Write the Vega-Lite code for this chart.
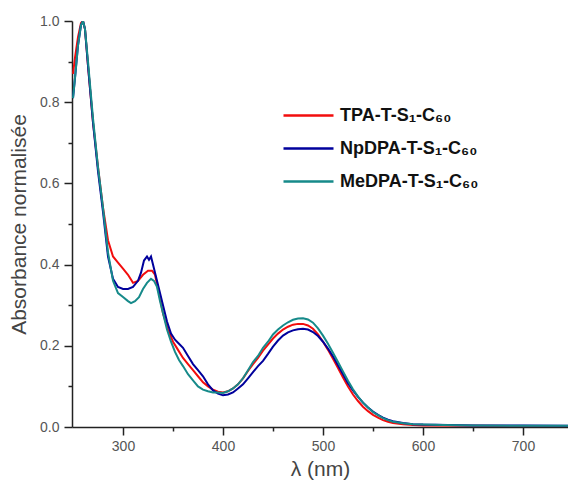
{
  "$schema": "https://vega.github.io/schema/vega-lite/v6.json",
  "width": 496,
  "height": 406,
  "autosize": {"type": "none"},
  "padding": {"left": 72, "top": 21, "right": 0, "bottom": 56},
  "background": "white",
  "config": {"view": {"stroke": null}, "font": "Liberation Sans"},
  "datasets": {
    "spectra": [
      {"series": "TPA-T-S₁-C₆₀", "wl": 250, "abs": 0.87}, {"series": "TPA-T-S₁-C₆₀", "wl": 252, "abs": 0.91}, {"series": "TPA-T-S₁-C₆₀", "wl": 255, "abs": 0.96}, {"series": "TPA-T-S₁-C₆₀", "wl": 258, "abs": 0.995}, {"series": "TPA-T-S₁-C₆₀", "wl": 260, "abs": 1.0}, {"series": "TPA-T-S₁-C₆₀", "wl": 262, "abs": 0.98}, {"series": "TPA-T-S₁-C₆₀", "wl": 265, "abs": 0.89}, {"series": "TPA-T-S₁-C₆₀", "wl": 270, "abs": 0.75}, {"series": "TPA-T-S₁-C₆₀", "wl": 275, "abs": 0.64}, {"series": "TPA-T-S₁-C₆₀", "wl": 280, "abs": 0.54}, {"series": "TPA-T-S₁-C₆₀", "wl": 285, "abs": 0.46}, {"series": "TPA-T-S₁-C₆₀", "wl": 290, "abs": 0.42}, {"series": "TPA-T-S₁-C₆₀", "wl": 295, "abs": 0.405}, {"series": "TPA-T-S₁-C₆₀", "wl": 300, "abs": 0.39}, {"series": "TPA-T-S₁-C₆₀", "wl": 305, "abs": 0.375}, {"series": "TPA-T-S₁-C₆₀", "wl": 310, "abs": 0.355}, {"series": "TPA-T-S₁-C₆₀", "wl": 315, "abs": 0.36}, {"series": "TPA-T-S₁-C₆₀", "wl": 320, "abs": 0.375}, {"series": "TPA-T-S₁-C₆₀", "wl": 325, "abs": 0.385}, {"series": "TPA-T-S₁-C₆₀", "wl": 329, "abs": 0.385}, {"series": "TPA-T-S₁-C₆₀", "wl": 332, "abs": 0.375}, {"series": "TPA-T-S₁-C₆₀", "wl": 336, "abs": 0.33}, {"series": "TPA-T-S₁-C₆₀", "wl": 340, "abs": 0.28}, {"series": "TPA-T-S₁-C₆₀", "wl": 345, "abs": 0.24}, {"series": "TPA-T-S₁-C₆₀", "wl": 350, "abs": 0.21}, {"series": "TPA-T-S₁-C₆₀", "wl": 355, "abs": 0.19}, {"series": "TPA-T-S₁-C₆₀", "wl": 360, "abs": 0.17}, {"series": "TPA-T-S₁-C₆₀", "wl": 365, "abs": 0.155}, {"series": "TPA-T-S₁-C₆₀", "wl": 370, "abs": 0.14}, {"series": "TPA-T-S₁-C₆₀", "wl": 375, "abs": 0.125}, {"series": "TPA-T-S₁-C₆₀", "wl": 380, "abs": 0.11}, {"series": "TPA-T-S₁-C₆₀", "wl": 385, "abs": 0.1}, {"series": "TPA-T-S₁-C₆₀", "wl": 390, "abs": 0.092}, {"series": "TPA-T-S₁-C₆₀", "wl": 395, "abs": 0.087}, {"series": "TPA-T-S₁-C₆₀", "wl": 400, "abs": 0.085},
      {"series": "TPA-T-S₁-C₆₀", "wl": 405, "abs": 0.088}, {"series": "TPA-T-S₁-C₆₀", "wl": 410, "abs": 0.095}, {"series": "TPA-T-S₁-C₆₀", "wl": 415, "abs": 0.105}, {"series": "TPA-T-S₁-C₆₀", "wl": 420, "abs": 0.12}, {"series": "TPA-T-S₁-C₆₀", "wl": 425, "abs": 0.138}, {"series": "TPA-T-S₁-C₆₀", "wl": 430, "abs": 0.155}, {"series": "TPA-T-S₁-C₆₀", "wl": 435, "abs": 0.17}, {"series": "TPA-T-S₁-C₆₀", "wl": 440, "abs": 0.188}, {"series": "TPA-T-S₁-C₆₀", "wl": 445, "abs": 0.203}, {"series": "TPA-T-S₁-C₆₀", "wl": 450, "abs": 0.218}, {"series": "TPA-T-S₁-C₆₀", "wl": 455, "abs": 0.23}, {"series": "TPA-T-S₁-C₆₀", "wl": 460, "abs": 0.24}, {"series": "TPA-T-S₁-C₆₀", "wl": 465, "abs": 0.247}, {"series": "TPA-T-S₁-C₆₀", "wl": 470, "abs": 0.252}, {"series": "TPA-T-S₁-C₆₀", "wl": 475, "abs": 0.254}, {"series": "TPA-T-S₁-C₆₀", "wl": 480, "abs": 0.254}, {"series": "TPA-T-S₁-C₆₀", "wl": 485, "abs": 0.25}, {"series": "TPA-T-S₁-C₆₀", "wl": 490, "abs": 0.242}, {"series": "TPA-T-S₁-C₆₀", "wl": 495, "abs": 0.228}, {"series": "TPA-T-S₁-C₆₀", "wl": 500, "abs": 0.21}, {"series": "TPA-T-S₁-C₆₀", "wl": 505, "abs": 0.19}, {"series": "TPA-T-S₁-C₆₀", "wl": 510, "abs": 0.168}, {"series": "TPA-T-S₁-C₆₀", "wl": 515, "abs": 0.145}, {"series": "TPA-T-S₁-C₆₀", "wl": 520, "abs": 0.122}, {"series": "TPA-T-S₁-C₆₀", "wl": 525, "abs": 0.1}, {"series": "TPA-T-S₁-C₆₀", "wl": 530, "abs": 0.08}, {"series": "TPA-T-S₁-C₆₀", "wl": 535, "abs": 0.064}, {"series": "TPA-T-S₁-C₆₀", "wl": 540, "abs": 0.05}, {"series": "TPA-T-S₁-C₆₀", "wl": 545, "abs": 0.039}, {"series": "TPA-T-S₁-C₆₀", "wl": 550, "abs": 0.03}, {"series": "TPA-T-S₁-C₆₀", "wl": 555, "abs": 0.023}, {"series": "TPA-T-S₁-C₆₀", "wl": 560, "abs": 0.017}, {"series": "TPA-T-S₁-C₆₀", "wl": 565, "abs": 0.013}, {"series": "TPA-T-S₁-C₆₀", "wl": 570, "abs": 0.01}, {"series": "TPA-T-S₁-C₆₀", "wl": 580, "abs": 0.007}, {"series": "TPA-T-S₁-C₆₀", "wl": 590, "abs": 0.005}, {"series": "TPA-T-S₁-C₆₀", "wl": 600, "abs": 0.004}, {"series": "TPA-T-S₁-C₆₀", "wl": 650, "abs": 0.003}, {"series": "TPA-T-S₁-C₆₀", "wl": 700, "abs": 0.002}, {"series": "TPA-T-S₁-C₆₀", "wl": 745, "abs": 0.002},

      {"series": "NpDPA-T-S₁-C₆₀", "wl": 250, "abs": 0.81}, {"series": "NpDPA-T-S₁-C₆₀", "wl": 252, "abs": 0.86}, {"series": "NpDPA-T-S₁-C₆₀", "wl": 255, "abs": 0.94}, {"series": "NpDPA-T-S₁-C₆₀", "wl": 258, "abs": 0.99}, {"series": "NpDPA-T-S₁-C₆₀", "wl": 260, "abs": 1.0}, {"series": "NpDPA-T-S₁-C₆₀", "wl": 262, "abs": 0.98}, {"series": "NpDPA-T-S₁-C₆₀", "wl": 265, "abs": 0.89}, {"series": "NpDPA-T-S₁-C₆₀", "wl": 270, "abs": 0.75}, {"series": "NpDPA-T-S₁-C₆₀", "wl": 275, "abs": 0.63}, {"series": "NpDPA-T-S₁-C₆₀", "wl": 280, "abs": 0.53}, {"series": "NpDPA-T-S₁-C₆₀", "wl": 285, "abs": 0.42}, {"series": "NpDPA-T-S₁-C₆₀", "wl": 290, "abs": 0.365}, {"series": "NpDPA-T-S₁-C₆₀", "wl": 295, "abs": 0.345}, {"series": "NpDPA-T-S₁-C₆₀", "wl": 300, "abs": 0.34}, {"series": "NpDPA-T-S₁-C₆₀", "wl": 305, "abs": 0.34}, {"series": "NpDPA-T-S₁-C₆₀", "wl": 310, "abs": 0.345}, {"series": "NpDPA-T-S₁-C₆₀", "wl": 315, "abs": 0.36}, {"series": "NpDPA-T-S₁-C₆₀", "wl": 318, "abs": 0.38}, {"series": "NpDPA-T-S₁-C₆₀", "wl": 321, "abs": 0.41}, {"series": "NpDPA-T-S₁-C₆₀", "wl": 324, "abs": 0.42}, {"series": "NpDPA-T-S₁-C₆₀", "wl": 326, "abs": 0.412}, {"series": "NpDPA-T-S₁-C₆₀", "wl": 328, "abs": 0.42}, {"series": "NpDPA-T-S₁-C₆₀", "wl": 330, "abs": 0.4}, {"series": "NpDPA-T-S₁-C₆₀", "wl": 333, "abs": 0.37}, {"series": "NpDPA-T-S₁-C₆₀", "wl": 337, "abs": 0.33}, {"series": "NpDPA-T-S₁-C₆₀", "wl": 340, "abs": 0.3}, {"series": "NpDPA-T-S₁-C₆₀", "wl": 344, "abs": 0.26}, {"series": "NpDPA-T-S₁-C₆₀", "wl": 348, "abs": 0.23}, {"series": "NpDPA-T-S₁-C₆₀", "wl": 352, "abs": 0.215}, {"series": "NpDPA-T-S₁-C₆₀", "wl": 356, "abs": 0.205}, {"series": "NpDPA-T-S₁-C₆₀", "wl": 360, "abs": 0.195}, {"series": "NpDPA-T-S₁-C₆₀", "wl": 365, "abs": 0.175}, {"series": "NpDPA-T-S₁-C₆₀", "wl": 370, "abs": 0.155}, {"series": "NpDPA-T-S₁-C₆₀", "wl": 375, "abs": 0.14}, {"series": "NpDPA-T-S₁-C₆₀", "wl": 380, "abs": 0.125}, {"series": "NpDPA-T-S₁-C₆₀", "wl": 385, "abs": 0.105}, {"series": "NpDPA-T-S₁-C₆₀", "wl": 390, "abs": 0.09}, {"series": "NpDPA-T-S₁-C₆₀", "wl": 395, "abs": 0.082}, {"series": "NpDPA-T-S₁-C₆₀", "wl": 400, "abs": 0.078},
      {"series": "NpDPA-T-S₁-C₆₀", "wl": 405, "abs": 0.08}, {"series": "NpDPA-T-S₁-C₆₀", "wl": 410, "abs": 0.085}, {"series": "NpDPA-T-S₁-C₆₀", "wl": 415, "abs": 0.095}, {"series": "NpDPA-T-S₁-C₆₀", "wl": 420, "abs": 0.105}, {"series": "NpDPA-T-S₁-C₆₀", "wl": 425, "abs": 0.12}, {"series": "NpDPA-T-S₁-C₆₀", "wl": 430, "abs": 0.135}, {"series": "NpDPA-T-S₁-C₆₀", "wl": 435, "abs": 0.15}, {"series": "NpDPA-T-S₁-C₆₀", "wl": 440, "abs": 0.163}, {"series": "NpDPA-T-S₁-C₆₀", "wl": 445, "abs": 0.18}, {"series": "NpDPA-T-S₁-C₆₀", "wl": 450, "abs": 0.198}, {"series": "NpDPA-T-S₁-C₆₀", "wl": 455, "abs": 0.213}, {"series": "NpDPA-T-S₁-C₆₀", "wl": 460, "abs": 0.225}, {"series": "NpDPA-T-S₁-C₆₀", "wl": 465, "abs": 0.233}, {"series": "NpDPA-T-S₁-C₆₀", "wl": 470, "abs": 0.238}, {"series": "NpDPA-T-S₁-C₆₀", "wl": 475, "abs": 0.241}, {"series": "NpDPA-T-S₁-C₆₀", "wl": 480, "abs": 0.242}, {"series": "NpDPA-T-S₁-C₆₀", "wl": 485, "abs": 0.24}, {"series": "NpDPA-T-S₁-C₆₀", "wl": 490, "abs": 0.234}, {"series": "NpDPA-T-S₁-C₆₀", "wl": 495, "abs": 0.224}, {"series": "NpDPA-T-S₁-C₆₀", "wl": 500, "abs": 0.21}, {"series": "NpDPA-T-S₁-C₆₀", "wl": 505, "abs": 0.193}, {"series": "NpDPA-T-S₁-C₆₀", "wl": 510, "abs": 0.174}, {"series": "NpDPA-T-S₁-C₆₀", "wl": 515, "abs": 0.152}, {"series": "NpDPA-T-S₁-C₆₀", "wl": 520, "abs": 0.13}, {"series": "NpDPA-T-S₁-C₆₀", "wl": 525, "abs": 0.108}, {"series": "NpDPA-T-S₁-C₆₀", "wl": 530, "abs": 0.09}, {"series": "NpDPA-T-S₁-C₆₀", "wl": 535, "abs": 0.074}, {"series": "NpDPA-T-S₁-C₆₀", "wl": 540, "abs": 0.06}, {"series": "NpDPA-T-S₁-C₆₀", "wl": 545, "abs": 0.048}, {"series": "NpDPA-T-S₁-C₆₀", "wl": 550, "abs": 0.038}, {"series": "NpDPA-T-S₁-C₆₀", "wl": 555, "abs": 0.03}, {"series": "NpDPA-T-S₁-C₆₀", "wl": 560, "abs": 0.023}, {"series": "NpDPA-T-S₁-C₆₀", "wl": 565, "abs": 0.018}, {"series": "NpDPA-T-S₁-C₆₀", "wl": 570, "abs": 0.014}, {"series": "NpDPA-T-S₁-C₆₀", "wl": 580, "abs": 0.01}, {"series": "NpDPA-T-S₁-C₆₀", "wl": 590, "abs": 0.007}, {"series": "NpDPA-T-S₁-C₆₀", "wl": 600, "abs": 0.006}, {"series": "NpDPA-T-S₁-C₆₀", "wl": 650, "abs": 0.004}, {"series": "NpDPA-T-S₁-C₆₀", "wl": 700, "abs": 0.004}, {"series": "NpDPA-T-S₁-C₆₀", "wl": 745, "abs": 0.003},

      {"series": "MeDPA-T-S₁-C₆₀", "wl": 250, "abs": 0.81}, {"series": "MeDPA-T-S₁-C₆₀", "wl": 252, "abs": 0.86}, {"series": "MeDPA-T-S₁-C₆₀", "wl": 255, "abs": 0.94}, {"series": "MeDPA-T-S₁-C₆₀", "wl": 258, "abs": 0.99}, {"series": "MeDPA-T-S₁-C₆₀", "wl": 260, "abs": 1.0}, {"series": "MeDPA-T-S₁-C₆₀", "wl": 262, "abs": 0.98}, {"series": "MeDPA-T-S₁-C₆₀", "wl": 265, "abs": 0.9}, {"series": "MeDPA-T-S₁-C₆₀", "wl": 270, "abs": 0.76}, {"series": "MeDPA-T-S₁-C₆₀", "wl": 275, "abs": 0.64}, {"series": "MeDPA-T-S₁-C₆₀", "wl": 280, "abs": 0.54}, {"series": "MeDPA-T-S₁-C₆₀", "wl": 285, "abs": 0.43}, {"series": "MeDPA-T-S₁-C₆₀", "wl": 290, "abs": 0.36}, {"series": "MeDPA-T-S₁-C₆₀", "wl": 295, "abs": 0.33}, {"series": "MeDPA-T-S₁-C₆₀", "wl": 300, "abs": 0.32}, {"series": "MeDPA-T-S₁-C₆₀", "wl": 305, "abs": 0.31}, {"series": "MeDPA-T-S₁-C₆₀", "wl": 308, "abs": 0.305}, {"series": "MeDPA-T-S₁-C₆₀", "wl": 312, "abs": 0.31}, {"series": "MeDPA-T-S₁-C₆₀", "wl": 316, "abs": 0.32}, {"series": "MeDPA-T-S₁-C₆₀", "wl": 320, "abs": 0.34}, {"series": "MeDPA-T-S₁-C₆₀", "wl": 324, "abs": 0.355}, {"series": "MeDPA-T-S₁-C₆₀", "wl": 328, "abs": 0.365}, {"series": "MeDPA-T-S₁-C₆₀", "wl": 331, "abs": 0.36}, {"series": "MeDPA-T-S₁-C₆₀", "wl": 334, "abs": 0.345}, {"series": "MeDPA-T-S₁-C₆₀", "wl": 337, "abs": 0.31}, {"series": "MeDPA-T-S₁-C₆₀", "wl": 340, "abs": 0.28}, {"series": "MeDPA-T-S₁-C₆₀", "wl": 344, "abs": 0.24}, {"series": "MeDPA-T-S₁-C₆₀", "wl": 348, "abs": 0.21}, {"series": "MeDPA-T-S₁-C₆₀", "wl": 352, "abs": 0.185}, {"series": "MeDPA-T-S₁-C₆₀", "wl": 356, "abs": 0.165}, {"series": "MeDPA-T-S₁-C₆₀", "wl": 360, "abs": 0.15}, {"series": "MeDPA-T-S₁-C₆₀", "wl": 365, "abs": 0.13}, {"series": "MeDPA-T-S₁-C₆₀", "wl": 370, "abs": 0.115}, {"series": "MeDPA-T-S₁-C₆₀", "wl": 375, "abs": 0.1}, {"series": "MeDPA-T-S₁-C₆₀", "wl": 380, "abs": 0.092}, {"series": "MeDPA-T-S₁-C₆₀", "wl": 385, "abs": 0.088}, {"series": "MeDPA-T-S₁-C₆₀", "wl": 390, "abs": 0.085}, {"series": "MeDPA-T-S₁-C₆₀", "wl": 395, "abs": 0.085}, {"series": "MeDPA-T-S₁-C₆₀", "wl": 400, "abs": 0.084},
      {"series": "MeDPA-T-S₁-C₆₀", "wl": 405, "abs": 0.088}, {"series": "MeDPA-T-S₁-C₆₀", "wl": 410, "abs": 0.095}, {"series": "MeDPA-T-S₁-C₆₀", "wl": 415, "abs": 0.105}, {"series": "MeDPA-T-S₁-C₆₀", "wl": 420, "abs": 0.12}, {"series": "MeDPA-T-S₁-C₆₀", "wl": 425, "abs": 0.14}, {"series": "MeDPA-T-S₁-C₆₀", "wl": 430, "abs": 0.16}, {"series": "MeDPA-T-S₁-C₆₀", "wl": 435, "abs": 0.175}, {"series": "MeDPA-T-S₁-C₆₀", "wl": 440, "abs": 0.195}, {"series": "MeDPA-T-S₁-C₆₀", "wl": 445, "abs": 0.21}, {"series": "MeDPA-T-S₁-C₆₀", "wl": 450, "abs": 0.228}, {"series": "MeDPA-T-S₁-C₆₀", "wl": 455, "abs": 0.24}, {"series": "MeDPA-T-S₁-C₆₀", "wl": 460, "abs": 0.25}, {"series": "MeDPA-T-S₁-C₆₀", "wl": 465, "abs": 0.258}, {"series": "MeDPA-T-S₁-C₆₀", "wl": 470, "abs": 0.264}, {"series": "MeDPA-T-S₁-C₆₀", "wl": 475, "abs": 0.267}, {"series": "MeDPA-T-S₁-C₆₀", "wl": 480, "abs": 0.268}, {"series": "MeDPA-T-S₁-C₆₀", "wl": 485, "abs": 0.265}, {"series": "MeDPA-T-S₁-C₆₀", "wl": 490, "abs": 0.257}, {"series": "MeDPA-T-S₁-C₆₀", "wl": 495, "abs": 0.243}, {"series": "MeDPA-T-S₁-C₆₀", "wl": 500, "abs": 0.225}, {"series": "MeDPA-T-S₁-C₆₀", "wl": 505, "abs": 0.205}, {"series": "MeDPA-T-S₁-C₆₀", "wl": 510, "abs": 0.183}, {"series": "MeDPA-T-S₁-C₆₀", "wl": 515, "abs": 0.16}, {"series": "MeDPA-T-S₁-C₆₀", "wl": 520, "abs": 0.137}, {"series": "MeDPA-T-S₁-C₆₀", "wl": 525, "abs": 0.114}, {"series": "MeDPA-T-S₁-C₆₀", "wl": 530, "abs": 0.093}, {"series": "MeDPA-T-S₁-C₆₀", "wl": 535, "abs": 0.075}, {"series": "MeDPA-T-S₁-C₆₀", "wl": 540, "abs": 0.06}, {"series": "MeDPA-T-S₁-C₆₀", "wl": 545, "abs": 0.048}, {"series": "MeDPA-T-S₁-C₆₀", "wl": 550, "abs": 0.037}, {"series": "MeDPA-T-S₁-C₆₀", "wl": 555, "abs": 0.029}, {"series": "MeDPA-T-S₁-C₆₀", "wl": 560, "abs": 0.022}, {"series": "MeDPA-T-S₁-C₆₀", "wl": 565, "abs": 0.017}, {"series": "MeDPA-T-S₁-C₆₀", "wl": 570, "abs": 0.013}, {"series": "MeDPA-T-S₁-C₆₀", "wl": 580, "abs": 0.009}, {"series": "MeDPA-T-S₁-C₆₀", "wl": 590, "abs": 0.007}, {"series": "MeDPA-T-S₁-C₆₀", "wl": 600, "abs": 0.006}, {"series": "MeDPA-T-S₁-C₆₀", "wl": 620, "abs": 0.005}, {"series": "MeDPA-T-S₁-C₆₀", "wl": 650, "abs": 0.004}, {"series": "MeDPA-T-S₁-C₆₀", "wl": 700, "abs": 0.003}, {"series": "MeDPA-T-S₁-C₆₀", "wl": 745, "abs": 0.003}
    ]
  },
  "data": {"name": "spectra"},
  "layer": [
    {
      "mark": {"type": "line", "strokeWidth": 2, "clip": true},
      "encoding": {
        "x": {
          "field": "wl", "type": "quantitative",
          "scale": {"domain": [249, 745], "nice": false, "zero": false},
          "axis": {
            "orient": "bottom", "values": [300, 400, 500, 600, 700], "format": "d",
            "title": "λ (nm)", "titleFont": "Liberation Sans", "titleFontSize": 21, "titleFontWeight": "normal", "titleColor": "#444444", "titlePadding": 5,
            "labelFont": "Liberation Sans", "labelFontSize": 14, "labelColor": "#555555", "labelPadding": 4,
            "domainColor": "#222222", "domainWidth": 1.5, "tickColor": "#222222", "tickWidth": 1.5, "tickSize": 8, "grid": false
          }
        },
        "y": {
          "field": "abs", "type": "quantitative",
          "scale": {"domain": [0, 1], "nice": false},
          "axis": {
            "orient": "left", "values": [0, 0.2, 0.4, 0.6, 0.8, 1.0], "format": ".1f",
            "title": "Absorbance normalisée", "titleFont": "Liberation Sans", "titleFontSize": 21, "titleFontWeight": "normal", "titleColor": "#444444", "titlePadding": 10,
            "labelFont": "Liberation Sans", "labelFontSize": 14, "labelColor": "#555555", "labelPadding": 5,
            "domainColor": "#222222", "domainWidth": 1.5, "tickColor": "#222222", "tickWidth": 1.5, "tickSize": 8, "grid": false
          }
        },
        "color": {
          "field": "series", "type": "nominal", "sort": null,
          "scale": {"domain": ["TPA-T-S₁-C₆₀", "NpDPA-T-S₁-C₆₀", "MeDPA-T-S₁-C₆₀"], "range": ["#f20d0d", "#00009c", "#168a8a"]},
          "legend": {
            "orient": "none", "legendX": 225, "legendY": 83, "title": null, "padding": 0,
            "symbolType": "M-2.5,0H2.5", "symbolSize": 400, "symbolStrokeWidth": 2.5,
            "labelFont": "Liberation Sans", "labelFontSize": 18, "labelFontWeight": "bold", "labelColor": "#111111",
            "labelOffset": 20, "rowPadding": 12
          }
        }
      }
    },
    {
      "mark": {"type": "line", "opacity": 0},
      "encoding": {
        "x": {
          "field": "wl", "type": "quantitative",
          "axis": {"orient": "bottom", "values": [350, 450, 550, 650], "labels": false, "domain": false, "title": null, "grid": false, "tickColor": "#222222", "tickWidth": 1.5, "tickSize": 4}
        },
        "y": {
          "field": "abs", "type": "quantitative",
          "axis": {"orient": "left", "values": [0.1, 0.3, 0.5, 0.7, 0.9], "labels": false, "domain": false, "title": null, "grid": false, "tickColor": "#222222", "tickWidth": 1.5, "tickSize": 4}
        }
      }
    }
  ],
  "resolve": {"axis": {"x": "independent", "y": "independent"}}
}
